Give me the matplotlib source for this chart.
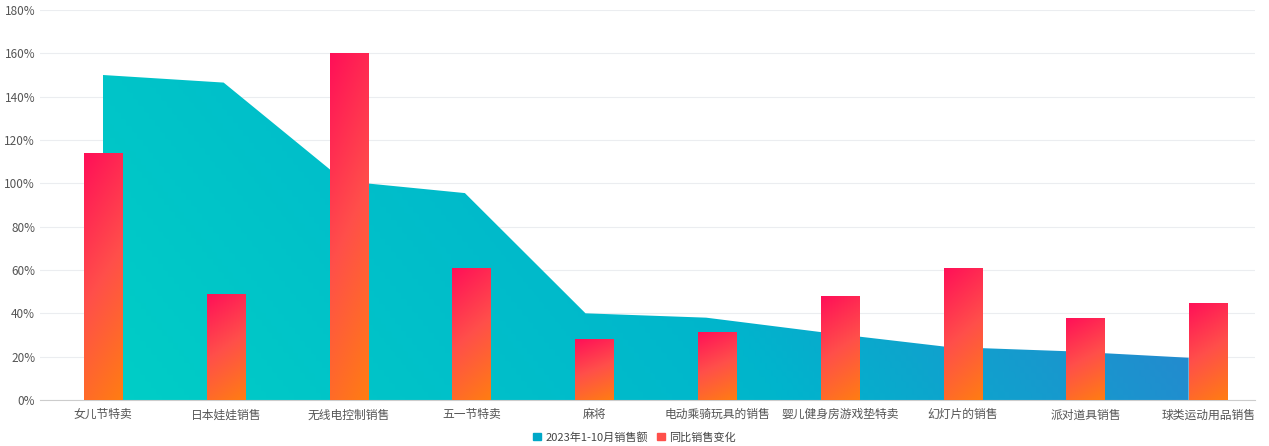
import matplotlib
matplotlib.use("Agg")
import matplotlib.pyplot as plt
import numpy as np
from matplotlib.colors import LinearSegmentedColormap
from matplotlib.patches import Patch

plt.rcParams['font.family'] = ['Noto Sans CJK SC', 'DejaVu Sans']

categories = ["女儿节特卖", "日本娃娃销售", "无线电控制销售", "五一节特卖", "麻将",
              "电动乘骑玩具的销售", "婴儿健身房游戏垫特卖", "幻灯片的销售", "派对道具销售", "球类运动用品销售"]
sales_share = [150, 146.5, 101, 95.5, 40, 38, 31, 24.5, 22.5, 19.5]
yoy_change = [114, 49, 160, 61, 28, 31.5, 48, 61, 38, 45]
yticks = list(range(0, 181, 20))

fig = plt.figure(figsize=(12.69, 4.46), dpi=100)
ax = fig.add_axes([40/1269, 46/446, 1215/1269, 390/446])
n = len(categories)
ax.set_xlim(-0.513, 9.38)
ax.set_ylim(0, 180)

# area with gradient
ax_x = np.arange(n) * (8.84 / 9)
area = ax.fill_between(ax_x, sales_share, 0, color='none', lw=0)
cmap_a = LinearSegmentedColormap.from_list('a', ['#00CEC6', '#00B5CC', '#3575D0'])
xx, yy = np.meshgrid(np.linspace(0, 1, 200), np.linspace(0, 1, 200))
grad = xx * 0.8 + (1 - yy) * 0.2
im = ax.imshow(grad, cmap=cmap_a, extent=[0, ax_x[-1], 0, 155], origin='upper',
               aspect='auto', zorder=2, vmin=0, vmax=1)
im.set_clip_path(area.get_paths()[0], transform=ax.transData)

# bars with gradient
cmap_b = LinearSegmentedColormap.from_list('b', ['#FF0F58', '#FF4F4A', '#FF7D12'])
bw = 0.31
bars = ax.bar(range(n), yoy_change, width=bw, color='none', zorder=3)
for b in bars:
    x0, w, h = b.get_x(), b.get_width(), b.get_height()
    g = yy * 0.8 + xx * 0.2
    bi = ax.imshow(g, cmap=cmap_b, extent=[x0, x0 + w, 0, h], origin='upper',
                   aspect='auto', zorder=3, vmin=0, vmax=1)
    bi.set_clip_path(b)

ax.set_yticks(yticks)
ax.set_yticklabels([f"{v}%" for v in yticks])
ax.set_xticks(range(n))
ax.set_xticklabels(categories)
ax.grid(axis='y', color='#EBEDF0', lw=0.8, zorder=0)
ax.set_axisbelow(True)
for s in ['top', 'right', 'left']:
    ax.spines[s].set_visible(False)
ax.spines['bottom'].set_color('#CCCCCC')
ax.tick_params(axis='both', length=0, labelsize=8.5, colors='#555555')
ax.tick_params(axis='x', pad=6)

handles = [Patch(color='#00A8C8', label='2023年1-10月销售额'),
           Patch(color='#FF4F4A', label='同比销售变化')]
fig.legend(handles=handles, loc='center', bbox_to_anchor=(0.5, 9/446), ncol=2,
           frameon=False, fontsize=8, handlelength=0.7, handleheight=0.7,
           columnspacing=0.8, handletextpad=0.4, labelcolor='#444444')

fig.savefig("out.png", dpi=100)
